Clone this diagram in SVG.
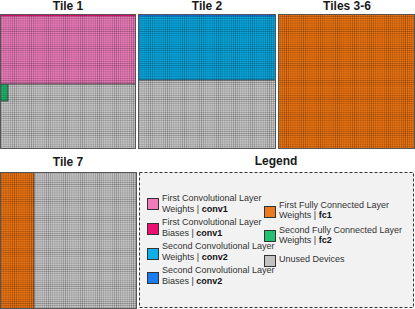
<svg xmlns="http://www.w3.org/2000/svg" width="415" height="309" viewBox="0 0 415 309">
<style>
.title{font-family:"Liberation Sans",Arial,sans-serif;font-size:12px;font-weight:bold;fill:#1a1a1a;text-anchor:middle}
.lt{font-family:"Liberation Sans",Arial,sans-serif;font-size:9px;fill:#333}
.lt tspan.b{font-weight:bold;fill:#111}
.sw{stroke:#333;stroke-width:1}
.edge{fill:none;stroke:#555;stroke-width:1}
.div{stroke:#333;stroke-width:0.8}
</style>
<defs>
<pattern id="grid" width="2.125" height="2.125" patternUnits="userSpaceOnUse">
<path d="M2.125 0V2.125H0" fill="none" stroke="#000" stroke-opacity="0.45" stroke-width="0.7"/>
</pattern>
</defs>
<rect width="415" height="309" fill="#fff"/>

<g id="tile1">
<text class="title" x="68" y="10">Tile 1</text>
<rect x="0" y="14" width="136" height="70" fill="#ec7cbc"/>
<rect x="0" y="14" width="136" height="2.2" fill="#e0106c"/>
<rect x="0" y="84" width="136" height="65" fill="#c8c8c8"/>
<rect x="0" y="84" width="8" height="17" fill="#1fb56b"/>
<rect x="0" y="14" width="136" height="135" fill="url(#grid)"/>
<line class="div" x1="0" y1="84" x2="136" y2="84"/>
<path class="div" d="M0 101H8V84" fill="none"/>
<rect class="edge" x="0.5" y="14.5" width="135" height="134"/>
</g>

<g id="tile2">
<text class="title" x="207" y="10">Tile 2</text>
<rect x="138" y="14" width="138" height="66" fill="#0aa6de"/>
<rect x="138" y="14" width="138" height="2.2" fill="#1670e0"/>
<rect x="138" y="80" width="138" height="69" fill="#c8c8c8"/>
<rect x="138" y="14" width="138" height="135" fill="url(#grid)"/>
<line class="div" x1="138" y1="80" x2="276" y2="80"/>
<rect class="edge" x="138.5" y="14.5" width="137" height="134"/>
</g>

<g id="tiles3-6">
<text class="title" x="347" y="10">Tiles 3-6</text>
<rect x="278" y="14" width="137" height="135" fill="#ec7412"/>
<rect x="278" y="14" width="137" height="135" fill="url(#grid)"/>
<rect class="edge" x="278.5" y="14.5" width="136" height="134"/>
</g>

<g id="tile7">
<text class="title" x="68" y="166">Tile 7</text>
<rect x="0" y="172" width="34" height="137" fill="#ec7412"/>
<rect x="34" y="172" width="103" height="137" fill="#c8c8c8"/>
<rect x="0" y="172" width="137" height="137" fill="url(#grid)"/>
<line class="div" x1="34" y1="172" x2="34" y2="309"/>
<rect class="edge" x="0.5" y="172.5" width="136" height="136"/>
</g>

<g id="legend">
<text class="title" x="276" y="165">Legend</text>
<rect x="139.5" y="172.5" width="274" height="135" fill="#f2f2f2" stroke="#333" stroke-width="1" stroke-dasharray="3,2"/>
<g id="leg-conv1-w">
<rect class="sw" x="147.5" y="198.5" width="11" height="11" fill="#f07cbc"/>
<text class="lt" x="162" y="201">First Convolutional Layer</text>
<text class="lt" x="162" y="212">Weights | <tspan class="b">conv1</tspan></text>
</g>
<g id="leg-conv1-b">
<rect class="sw" x="147.5" y="223.5" width="11" height="11" fill="#ee0f73"/>
<text class="lt" x="162" y="225">First Convolutional Layer</text>
<text class="lt" x="162" y="236">Biases | <tspan class="b">conv1</tspan></text>
</g>
<g id="leg-conv2-w">
<rect class="sw" x="147.5" y="248.5" width="11" height="11" fill="#0fb0ea"/>
<text class="lt" x="162" y="249">Second Convolutional Layer</text>
<text class="lt" x="162" y="260">Weights | <tspan class="b">conv2</tspan></text>
</g>
<g id="leg-conv2-b">
<rect class="sw" x="147.5" y="272.5" width="11" height="11" fill="#1a7cf0"/>
<text class="lt" x="162" y="273">Second Convolutional Layer</text>
<text class="lt" x="162" y="284">Biases | <tspan class="b">conv2</tspan></text>
</g>
<g id="leg-fc1">
<rect class="sw" x="264.5" y="206.5" width="11" height="11" fill="#ec7a22"/>
<text class="lt" x="279" y="208">First Fully Connected Layer</text>
<text class="lt" x="279" y="218">Weights | <tspan class="b">fc1</tspan></text>
</g>
<g id="leg-fc2">
<rect class="sw" x="264.5" y="230.5" width="11" height="11" fill="#22c070"/>
<text class="lt" x="279" y="233">Second Fully Connected Layer</text>
<text class="lt" x="279" y="243">Weights | <tspan class="b">fc2</tspan></text>
</g>
<g id="leg-unused">
<rect class="sw" x="264.5" y="255.5" width="11" height="11" fill="#c2c2c2"/>
<text class="lt" x="279" y="262">Unused Devices</text>
</g>
</g>
</svg>
